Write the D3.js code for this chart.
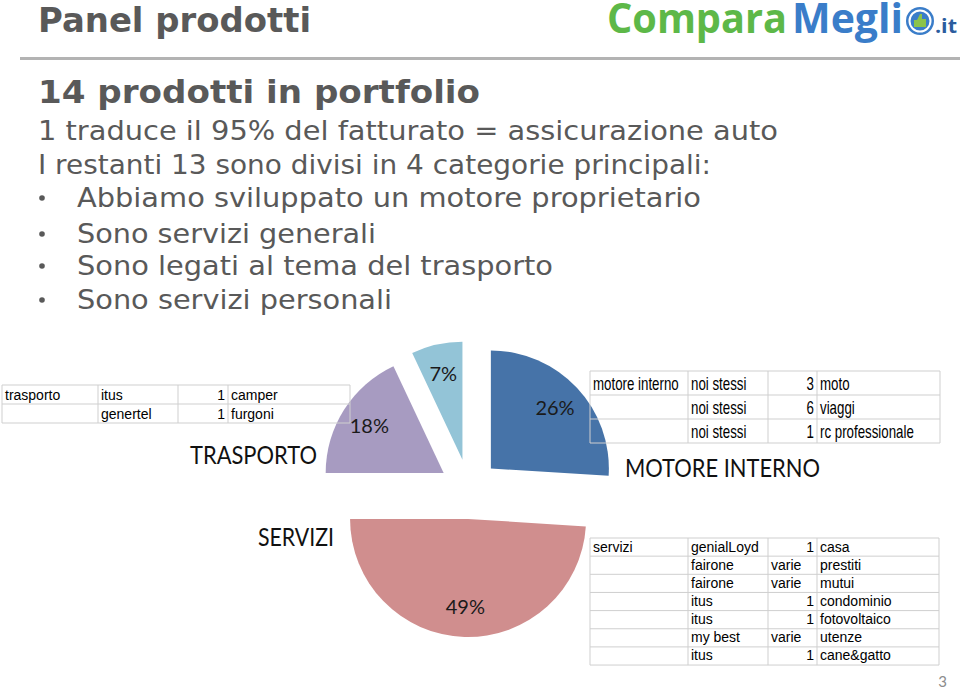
<!DOCTYPE html>
<html><head><meta charset="utf-8">
<script src="https://cdn.jsdelivr.net/npm/d3@7"></script>
<style>body{margin:0;background:#fff;overflow:hidden}</style>
</head><body>
<script>
// ---- data ----
const categories = ["MOTORE INTERNO", "SERVIZI", "TRASPORTO", "ALTRO"];
const shares = [26, 49, 18, 7];
const sliceColors = ["#4673A8", "#D08E8E", "#A79BC1", "#93C4D7"];

const pageTitle = "Panel prodotti";
const headline = "14 prodotti in portfolio";
const introLines = ["1 traduce il 95% del fatturato = assicurazione auto",
                    "I restanti 13 sono divisi in 4 categorie principali:"];
const bulletLines = ["Abbiamo sviluppato un motore proprietario",
                     "Sono servizi generali",
                     "Sono legati al tema del trasporto",
                     "Sono servizi personali"];

const trasportoRows = [["trasporto", "itus", "1", "camper"],
                       ["", "genertel", "1", "furgoni"]];
const motoreRows = [["motore interno", "noi stessi", "3", "moto"],
                    ["", "noi stessi", "6", "viaggi"],
                    ["", "noi stessi", "1", "rc professionale"]];
const serviziRows = [["servizi", "genialLoyd", "1", "casa"],
                     ["", "fairone", "varie", "prestiti"],
                     ["", "fairone", "varie", "mutui"],
                     ["", "itus", "1", "condominio"],
                     ["", "itus", "1", "fotovoltaico"],
                     ["", "my best", "varie", "utenze"],
                     ["", "itus", "1", "cane&gatto"]];
const pageNumber = "3";

// ---- drawing ----
const W = 960, H = 689;
const svg = d3.select("body").append("svg").attr("width", W).attr("height", H);
const gray = "#595959";

// Logo
const logo = svg.append("g");
logo.append("text").attr("x", 607).attr("y", 33).text("Compara")
  .attr("font-family", "'Open Sans', 'DejaVu Sans', sans-serif").attr("font-weight", 700)
  .attr("font-size", 41).attr("fill", "#5DB848")
  .attr("textLength", 180).attr("lengthAdjust", "spacingAndGlyphs");
logo.append("text").attr("x", 792).attr("y", 33).text("Megli")
  .attr("font-family", "'Open Sans', 'DejaVu Sans', sans-serif").attr("font-weight", 700)
  .attr("font-size", 41).attr("fill", "#3A7DC9")
  .attr("textLength", 111).attr("lengthAdjust", "spacingAndGlyphs");
logo.append("circle").attr("cx", 920).attr("cy", 21).attr("r", 14).attr("fill", "#3A7DC9");
logo.append("circle").attr("cx", 920).attr("cy", 21).attr("r", 10.5).attr("fill", "none").attr("stroke", "#fff").attr("stroke-width", 2);
logo.append("path").attr("d", "M914,27 L914,20 L917,20 L920,14 L922,14 L922,19 L926,19 L926,27 Z").attr("fill", "#8BC34A");
logo.append("text").attr("x", 935).attr("y", 33).text(".it")
  .attr("font-family", "'Open Sans', 'DejaVu Sans', sans-serif").attr("font-weight", 700)
  .attr("font-size", 19).attr("fill", "#2B5C9E")
  .attr("textLength", 22).attr("lengthAdjust", "spacingAndGlyphs");

// Title
svg.append("text").attr("x", 38).attr("y", 32).text(pageTitle)
  .attr("font-family", "'DejaVu Sans', sans-serif").attr("font-weight", 700)
  .attr("font-size", 33).attr("fill", gray)
  .attr("textLength", 273).attr("lengthAdjust", "spacingAndGlyphs");
svg.append("rect").attr("x", 20).attr("y", 57).attr("width", 940).attr("height", 3).attr("fill", "#B3B3B3");

svg.append("text").attr("x", 38).attr("y", 103).text(headline)
  .attr("font-family", "'DejaVu Sans', sans-serif").attr("font-weight", 700)
  .attr("font-size", 32).attr("fill", gray)
  .attr("textLength", 442).attr("lengthAdjust", "spacingAndGlyphs");

const introW = [740, 673];
const introY = [140, 174];
introLines.forEach((t, i) => {
  svg.append("text").attr("x", 38).attr("y", introY[i]).text(t)
    .attr("font-family", "'DejaVu Sans', sans-serif").attr("font-size", 27).attr("fill", gray)
    .attr("textLength", introW[i]).attr("lengthAdjust", "spacingAndGlyphs");
});
const bulletW = [624, 299, 476, 315];
const bulletY = [207, 243, 275, 309];
bulletLines.forEach((t, i) => {
  svg.append("circle").attr("cx", 42).attr("cy", bulletY[i] - 9).attr("r", 2.8).attr("fill", gray);
  svg.append("text").attr("x", 77).attr("y", bulletY[i]).text(t)
    .attr("font-family", "'DejaVu Sans', sans-serif").attr("font-size", 27).attr("fill", gray)
    .attr("textLength", bulletW[i]).attr("lengthAdjust", "spacingAndGlyphs");
});

// Exploded pie
const cx = 469, cy = 489, R = 118, explode = 30, labelR = 88;
const pie = d3.pie().sort(null).value(d => d)(shares);
const arc = d3.arc().innerRadius(0).outerRadius(R);
const labelArc = d3.arc().innerRadius(labelR).outerRadius(labelR);
const pieG = svg.append("g").attr("transform", `translate(${cx},${cy})`);
const slices = pieG.selectAll("g.slice").data(pie).enter().append("g")
  .attr("transform", d => {
    const a = (d.startAngle + d.endAngle) / 2;
    return `translate(${explode * Math.sin(a)},${-explode * Math.cos(a)})`;
  });
slices.append("path").attr("d", arc).attr("fill", (d, i) => sliceColors[i]);
slices.append("text")
  .attr("transform", d => `translate(${labelArc.centroid(d)})`)
  .attr("text-anchor", "middle").attr("dy", "0.35em")
  .attr("font-family", "Lato, 'Open Sans', sans-serif").attr("font-size", 20).attr("fill", "#1a1a1a")
  .text(d => d.data + "%");

// Category headers
const hdr = (t, x, y, w) => svg.append("text").attr("x", x).attr("y", y).text(t)
  .attr("font-family", "Lato, 'Open Sans', sans-serif").attr("font-size", 25).attr("fill", "#111")
  .attr("textLength", w).attr("lengthAdjust", "spacingAndGlyphs");
hdr(categories[2], 190, 464, 127);
hdr(categories[0], 625, 477, 195);
hdr(categories[1], 258, 546, 76);

// Tables
function drawTable(rows, edges, top, rowH, baseOff, fontSize, sx) {
  const g = svg.append("g");
  const y = d3.scaleLinear().domain([0, rows.length]).range([top, top + rowH * rows.length]);
  const line = "#CFCFCF";
  d3.range(rows.length + 1).forEach(r => {
    g.append("line").attr("x1", edges[0]).attr("x2", edges[edges.length - 1])
      .attr("y1", y(r)).attr("y2", y(r)).attr("stroke", line).attr("stroke-width", 1);
  });
  edges.forEach(x => {
    g.append("line").attr("x1", x).attr("x2", x).attr("y1", y(0)).attr("y2", y(rows.length))
      .attr("stroke", line).attr("stroke-width", 1);
  });
  rows.forEach((row, r) => {
    row.forEach((cell, c) => {
      if (!cell) return;
      const numeric = /^\d+$/.test(cell);
      const x = numeric ? edges[c + 1] - 3 : edges[c] + 3;
      g.append("text")
        .attr("transform", `translate(${x},${y(r) + baseOff}) scale(${sx},1)`)
        .attr("text-anchor", numeric ? "end" : "start")
        .attr("font-family", "'Liberation Sans', Arial, sans-serif")
        .attr("font-size", fontSize).attr("fill", "#000").text(cell);
    });
  });
}
drawTable(trasportoRows, [2, 98, 178, 228, 350], 385, 19, 15, 14, 1);
drawTable(motoreRows, [590, 688, 768, 817, 940], 371, 24, 19, 17.5, 0.76);
drawTable(serviziRows, [590, 688, 768, 817, 939], 538, 18.15, 13.5, 14, 1);

svg.append("text").attr("x", 947).attr("y", 687).attr("text-anchor", "end")
  .attr("font-family", "Lato, sans-serif").attr("font-size", 15).attr("fill", "#8C8C8C").text(pageNumber);
</script>
</body></html>
